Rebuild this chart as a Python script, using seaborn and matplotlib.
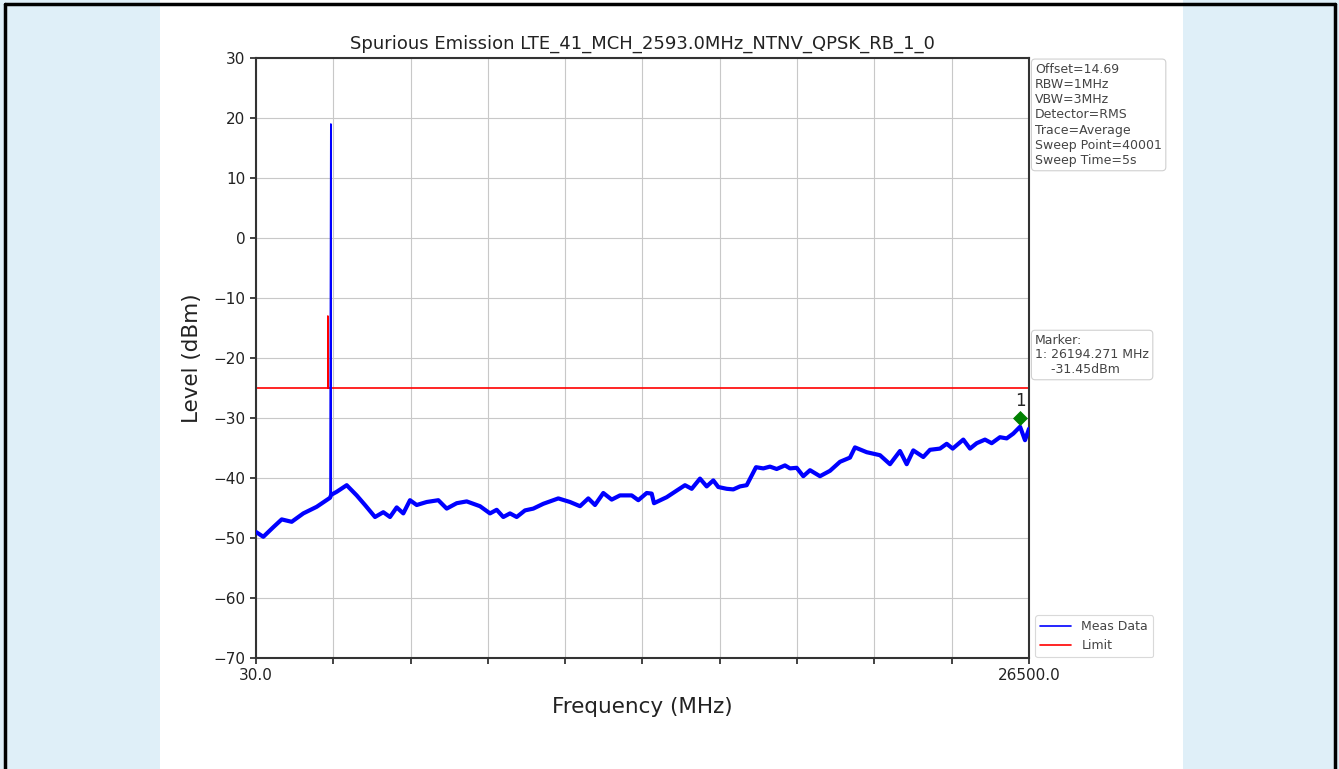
import numpy as np
import pandas as pd
import matplotlib
matplotlib.use('Agg')
import matplotlib.pyplot as plt
import seaborn as sns
from matplotlib.patches import Rectangle
from matplotlib.lines import Line2D

meas_freq = [30, 280, 622, 910, 1252, 1650, 2108, 2564, 2593, 2606, 2793, 3136,
             3478, 3762, 4105, 4389, 4619, 4848, 5074, 5303, 5533, 5875, 6273,
             6560, 6903, 7245, 7700, 8043, 8272, 8498, 8728, 8957, 9241, 9526,
             9868, 10382, 10782, 11125, 11409, 11638, 11923, 12210, 12494, 12895,
             13121, 13409, 13580, 13659, 14093, 14436, 14720, 14950, 15234, 15463,
             15689, 15860, 16148, 16374, 16604, 16833, 17152, 17402, 17631, 17860,
             18144, 18316, 18545, 18771, 19001, 19343, 19686, 20028, 20370, 20541,
             20942, 21397, 21740, 22082, 22312, 22538, 22880, 23110, 23452, 23682,
             23887, 24250, 24480, 24709, 24993, 25222, 25506, 25736, 25962, 26194.271,
             26363, 26500]
meas_level = [-49.0, -49.8, -48.2, -46.9, -47.3, -45.9, -44.8, -43.3, 19.0, -42.8, -42.3, -41.2,
              -42.9, -44.5, -46.5, -45.7, -46.5, -44.9, -45.9, -43.7, -44.5, -44.0, -43.7,
              -45.1, -44.2, -43.9, -44.7, -45.9, -45.3, -46.5, -45.9, -46.5, -45.4, -45.1,
              -44.3, -43.4, -44.0, -44.7, -43.4, -44.5, -42.5, -43.6, -42.9, -42.9,
              -43.7, -42.5, -42.6, -44.2, -43.2, -42.1, -41.2, -41.8, -40.1, -41.4,
              -40.4, -41.5, -41.8, -41.9, -41.4, -41.2, -38.2, -38.4, -38.1, -38.5,
              -37.9, -38.4, -38.3, -39.7, -38.7, -39.7, -38.8, -37.3, -36.6, -34.9,
              -35.7, -36.2, -37.7, -35.5, -37.7, -35.4, -36.5, -35.3, -35.1, -34.3,
              -35.1, -33.6, -35.1, -34.2, -33.6, -34.2, -33.2, -33.4, -32.6, -31.45,
              -33.7, -31.8]

# Limit line
limit_freq = [30, 2490, 2490, 2492, 26500]
limit_level = [-25, -25, -13, -25, -25]

# Marker
marker_freq = 26194.271
marker_level = -31.45
marker_offset = 1.5

# carrier spike (drawn thin, the noise floor is drawn thick)
spike_freq = 2593

x_start, x_stop = 30.0, 26500.0
y_ticks = list(range(-70, 31, 10))

settings_text = "Offset=14.69\nRBW=1MHz\nVBW=3MHz\nDetector=RMS\nTrace=Average\nSweep Point=40001\nSweep Time=5s"
marker_text = "Marker:\n1: 26194.271 MHz\n    -31.45dBm"
title = "Spurious Emission LTE_41_MCH_2593.0MHz_NTNV_QPSK_RB_1_0"

meas_df = pd.DataFrame({'freq': meas_freq, 'level': meas_level})
floor_df = meas_df[meas_df['freq'] != spike_freq]
limit_df = pd.DataFrame({'freq': limit_freq, 'level': limit_level})
mark_df = pd.DataFrame({'freq': [marker_freq], 'level': [marker_level + marker_offset]})

sns.set_style('white')
plt.rcParams['font.family'] = ['DejaVu Sans']

fig = plt.figure(figsize=(13.39, 7.69), dpi=100, facecolor='#dfeff8')
# white page panel and outer border
fig.add_artist(Rectangle((160 / 1339, 0), (1183 - 160) / 1339, 1.0,
                         transform=fig.transFigure, facecolor='white', edgecolor='none', zorder=0))
fig.add_artist(Line2D([5 / 1339, 5 / 1339], [0, 1 - 4 / 769], transform=fig.transFigure, color='black', lw=2.5))
fig.add_artist(Line2D([1335 / 1339, 1335 / 1339], [0, 1 - 4 / 769], transform=fig.transFigure, color='black', lw=2.5))
fig.add_artist(Line2D([5 / 1339, 1335 / 1339], [1 - 4 / 769, 1 - 4 / 769], transform=fig.transFigure, color='black', lw=2.5))

ax = fig.add_axes([256 / 1339, 1 - 658 / 769, (1029 - 256) / 1339, 600 / 769])
ax.set_facecolor('white')

sns.lineplot(data=meas_df, x='freq', y='level', ax=ax, color='blue', lw=1.2,
             estimator=None, sort=False, label='Meas Data', zorder=3)
sns.lineplot(data=floor_df, x='freq', y='level', ax=ax, color='blue', lw=3.0,
             estimator=None, sort=False, zorder=3, legend=False)
sns.lineplot(data=limit_df, x='freq', y='level', ax=ax, color='red', lw=1.2,
             estimator=None, sort=False, label='Limit', zorder=2)
sns.scatterplot(data=mark_df, x='freq', y='level', ax=ax, marker='D', color='green',
                s=50, edgecolor='green', zorder=4, legend=False)
ax.text(marker_freq, marker_level + marker_offset + 1.2, '1', ha='center', va='bottom',
        fontsize=12, color='#222222', zorder=5)

ax.set_xlim(x_start, x_stop)
ax.set_ylim(-70, 30)
xt = np.linspace(x_start, x_stop, 11)
ax.set_xticks(xt)
ax.set_xticklabels(['30.0'] + [''] * 9 + ['26500.0'])
ax.set_yticks(y_ticks)
ax.set_yticklabels([str(v).replace('-', '\u2212') for v in y_ticks])
ax.tick_params(axis='both', direction='out', length=4, width=1.2, labelsize=11,
               colors='#222222', bottom=True, left=True)
ax.grid(True, color='#c8c8c8', lw=0.8)
for s in ax.spines.values():
    s.set_color('#333333')
    s.set_linewidth(1.5)

ax.set_title(title, fontsize=13, pad=7, color='#222222')
ax.set_xlabel('Frequency (MHz)', fontsize=15.5, labelpad=10, color='#222222')
ax.set_ylabel('Level (dBm)', fontsize=15.5, labelpad=8, color='#222222')

box = dict(boxstyle='round,pad=0.3', facecolor='white', edgecolor='#d0d0d0', lw=0.8)
ax.text(1.008, 0.992, settings_text, transform=ax.transAxes, ha='left', va='top',
        fontsize=9, color='#444444', linespacing=1.22, bbox=box)
ax.text(1.008, 0.54, marker_text, transform=ax.transAxes, ha='left', va='top',
        fontsize=9, color='#444444', linespacing=1.15, bbox=box)

leg = ax.legend(loc='lower left', bbox_to_anchor=(1.003, -0.005), fontsize=9,
                frameon=True, borderaxespad=0.3, handlelength=2.5)
leg.get_frame().set_edgecolor('#d0d0d0')
leg.get_frame().set_linewidth(0.8)
for t in leg.get_texts():
    t.set_color('#444444')

fig.savefig('out.png', dpi=100, facecolor=fig.get_facecolor())
